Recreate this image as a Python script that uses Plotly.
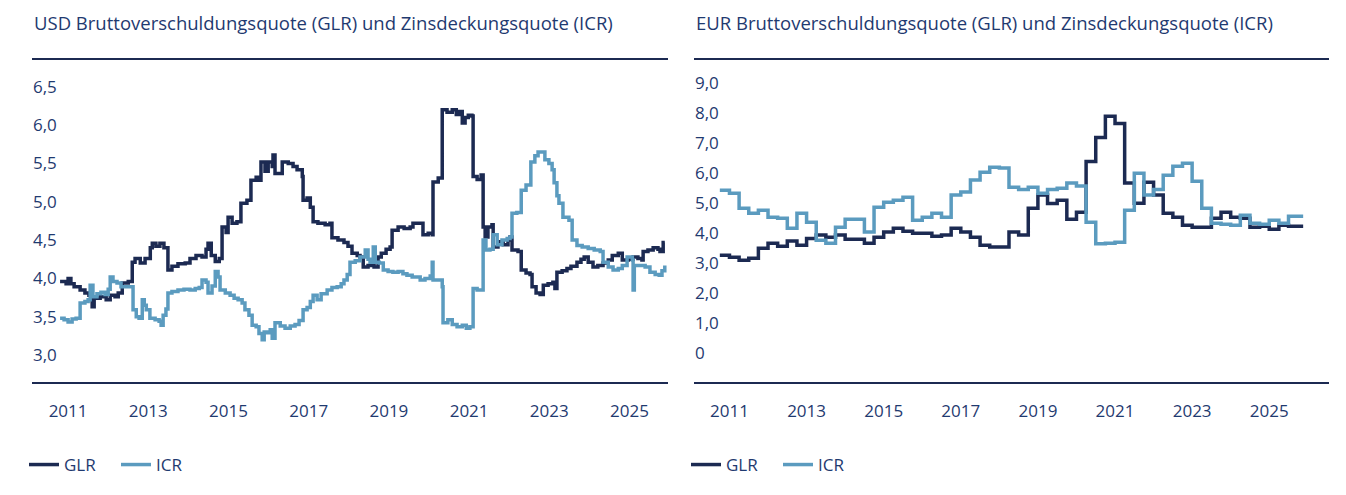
import plotly.graph_objects as go

NAVY = "#1c2a52"
LIGHT = "#5b9bbf"
TEXT = "#1f3a70"
FONT = "Open Sans"

# USD gross leverage ratio (GLR): (year, value)
usd_glr_pts = [
    (2010.80, 3.96), (2010.95, 3.93), (2011.00, 4.00), (2011.07, 3.93), (2011.15, 3.89),
    (2011.30, 3.85), (2011.42, 3.81), (2011.52, 3.78), (2011.60, 3.63), (2011.65, 3.74),
    (2011.80, 3.76), (2011.95, 3.72), (2012.05, 3.78), (2012.17, 3.76), (2012.25, 3.81),
    (2012.35, 3.94), (2012.50, 3.96), (2012.60, 4.21), (2012.67, 4.26), (2012.80, 4.20),
    (2012.92, 4.26), (2013.05, 4.40), (2013.10, 4.46), (2013.19, 4.42), (2013.29, 4.46),
    (2013.39, 4.40), (2013.49, 4.11), (2013.59, 4.16), (2013.74, 4.19), (2013.92, 4.20),
    (2014.04, 4.26), (2014.19, 4.30), (2014.34, 4.28), (2014.44, 4.38), (2014.49, 4.46),
    (2014.57, 4.30), (2014.67, 4.22), (2014.77, 4.26), (2014.84, 4.67), (2014.94, 4.60),
    (2014.99, 4.80), (2015.09, 4.72), (2015.21, 4.74), (2015.31, 4.98), (2015.46, 5.02),
    (2015.56, 5.28), (2015.69, 5.32), (2015.76, 5.28), (2015.81, 5.52), (2015.91, 5.40),
    (2015.99, 5.52), (2016.09, 5.46), (2016.11, 5.61), (2016.16, 5.37), (2016.29, 5.37),
    (2016.34, 5.52), (2016.49, 5.50), (2016.61, 5.46), (2016.71, 5.42), (2016.84, 5.33),
    (2016.86, 5.02), (2016.96, 5.05), (2017.04, 4.93), (2017.11, 4.74), (2017.23, 4.72),
    (2017.41, 4.70), (2017.53, 4.72), (2017.58, 4.53), (2017.73, 4.50), (2017.88, 4.47),
    (2017.98, 4.42), (2018.08, 4.33), (2018.21, 4.30), (2018.28, 4.28), (2018.36, 4.15),
    (2018.48, 4.17), (2018.63, 4.15), (2018.73, 4.28), (2018.81, 4.33), (2018.93, 4.38),
    (2019.03, 4.41), (2019.08, 4.63), (2019.23, 4.67), (2019.38, 4.65), (2019.53, 4.67),
    (2019.60, 4.72), (2019.78, 4.72), (2019.85, 4.57), (2019.98, 4.59), (2020.08, 4.57),
    (2020.10, 5.26), (2020.23, 5.31), (2020.33, 6.20), (2020.45, 6.17), (2020.58, 6.20),
    (2020.68, 6.14), (2020.75, 6.18), (2020.83, 6.03), (2020.90, 6.10), (2020.98, 6.13),
    (2021.07, 6.12), (2021.10, 5.33), (2021.20, 5.29), (2021.30, 5.35), (2021.35, 4.67),
    (2021.40, 4.54), (2021.47, 4.67), (2021.57, 4.70), (2021.60, 4.41), (2021.72, 4.48),
    (2021.85, 4.44), (2021.97, 4.50), (2022.02, 4.54), (2022.07, 4.37), (2022.22, 4.35),
    (2022.30, 4.11), (2022.42, 4.07), (2022.52, 4.05), (2022.57, 3.89), (2022.67, 3.81),
    (2022.77, 3.79), (2022.85, 3.91), (2022.97, 3.93), (2023.09, 3.95), (2023.14, 3.87),
    (2023.19, 4.08), (2023.32, 4.10), (2023.44, 4.13), (2023.54, 4.16), (2023.69, 4.21),
    (2023.79, 4.25), (2023.87, 4.28), (2023.97, 4.21), (2024.09, 4.15), (2024.21, 4.17),
    (2024.34, 4.20), (2024.47, 4.24), (2024.57, 4.30), (2024.72, 4.33), (2024.82, 4.24),
    (2024.97, 4.25), (2025.09, 4.28), (2025.21, 4.26), (2025.31, 4.24), (2025.34, 4.35),
    (2025.46, 4.37), (2025.59, 4.40), (2025.71, 4.38), (2025.76, 4.35), (2025.84, 4.47),
    (2025.88, 4.47),
]

# USD interest coverage ratio (ICR): (year, value)
usd_icr_pts = [
    (2010.80, 3.48), (2010.90, 3.46), (2011.00, 3.43), (2011.10, 3.47), (2011.20, 3.48),
    (2011.30, 3.68), (2011.42, 3.70), (2011.50, 3.72), (2011.55, 3.91), (2011.62, 3.76),
    (2011.72, 3.80), (2011.82, 3.82), (2011.92, 3.79), (2012.00, 3.86), (2012.05, 4.02),
    (2012.12, 3.96), (2012.22, 3.94), (2012.32, 3.89), (2012.45, 3.89), (2012.55, 3.89),
    (2012.62, 3.59), (2012.70, 3.50), (2012.77, 3.48), (2012.85, 3.72), (2012.90, 3.65),
    (2012.95, 3.59), (2013.04, 3.48), (2013.17, 3.46), (2013.27, 3.44), (2013.32, 3.39),
    (2013.37, 3.52), (2013.44, 3.60), (2013.49, 3.81), (2013.59, 3.83), (2013.74, 3.85),
    (2013.89, 3.86), (2014.04, 3.85), (2014.17, 3.87), (2014.27, 3.88), (2014.34, 3.98),
    (2014.44, 3.95), (2014.49, 3.81), (2014.59, 3.90), (2014.67, 4.09), (2014.74, 4.02),
    (2014.79, 3.85), (2014.92, 3.81), (2015.04, 3.78), (2015.14, 3.74), (2015.24, 3.72),
    (2015.34, 3.68), (2015.41, 3.59), (2015.51, 3.52), (2015.59, 3.39), (2015.69, 3.37),
    (2015.76, 3.28), (2015.84, 3.20), (2015.89, 3.30), (2015.96, 3.29), (2016.04, 3.33),
    (2016.09, 3.22), (2016.16, 3.42), (2016.29, 3.38), (2016.41, 3.35), (2016.54, 3.38),
    (2016.66, 3.40), (2016.76, 3.45), (2016.86, 3.59), (2016.96, 3.62), (2017.04, 3.70),
    (2017.11, 3.78), (2017.21, 3.72), (2017.31, 3.80), (2017.46, 3.85), (2017.58, 3.88),
    (2017.71, 3.89), (2017.81, 3.93), (2017.88, 3.98), (2017.96, 4.05), (2018.03, 4.21),
    (2018.16, 4.23), (2018.28, 4.28), (2018.41, 4.37), (2018.48, 4.25), (2018.53, 4.21),
    (2018.61, 4.41), (2018.66, 4.21), (2018.76, 4.20), (2018.86, 4.11), (2018.98, 4.09),
    (2019.10, 4.08), (2019.23, 4.09), (2019.35, 4.06), (2019.45, 4.04), (2019.58, 4.02),
    (2019.70, 4.02), (2019.78, 3.98), (2019.90, 4.00), (2020.03, 4.03), (2020.08, 4.21),
    (2020.10, 3.98), (2020.23, 3.98), (2020.33, 3.89), (2020.35, 3.42), (2020.47, 3.46),
    (2020.58, 3.40), (2020.70, 3.37), (2020.83, 3.39), (2020.93, 3.35), (2021.02, 3.37),
    (2021.10, 3.87), (2021.20, 3.85), (2021.30, 3.85), (2021.35, 4.50), (2021.42, 4.37),
    (2021.52, 4.38), (2021.60, 4.57), (2021.70, 4.44), (2021.82, 4.50), (2021.95, 4.52),
    (2022.02, 4.54), (2022.07, 4.85), (2022.19, 4.86), (2022.30, 5.15), (2022.42, 5.22),
    (2022.54, 5.52), (2022.64, 5.60), (2022.72, 5.65), (2022.82, 5.65), (2022.89, 5.55),
    (2022.99, 5.50), (2023.07, 5.42), (2023.12, 5.25), (2023.19, 5.08), (2023.24, 4.98),
    (2023.34, 4.80), (2023.49, 4.76), (2023.57, 4.50), (2023.69, 4.43), (2023.82, 4.41),
    (2023.97, 4.39), (2024.12, 4.37), (2024.27, 4.35), (2024.34, 4.21), (2024.47, 4.15),
    (2024.59, 4.11), (2024.72, 4.13), (2024.82, 4.17), (2024.94, 4.28), (2025.07, 4.24),
    (2025.09, 3.85), (2025.12, 4.17), (2025.26, 4.17), (2025.39, 4.15), (2025.51, 4.08),
    (2025.64, 4.05), (2025.74, 4.04), (2025.81, 4.10), (2025.88, 4.17),
]

# EUR quarterly values, Q4 2010 .. Q4 2025
eur_glr = [
    3.27,
    3.20, 3.10, 3.17, 3.50,
    3.67, 3.57, 3.74, 3.60,
    3.83, 3.94, 3.87, 3.94,
    3.80, 3.80, 3.67, 3.87,
    4.04, 4.17, 4.07, 4.00,
    4.00, 3.90, 3.94, 4.17,
    4.04, 3.87, 3.60, 3.54,
    3.54, 4.04, 3.94, 4.83,
    5.27, 4.99, 5.10, 4.47,
    4.70, 6.39, 7.19, 7.89,
    7.65, 5.67, 5.00, 5.70,
    5.27, 4.67, 4.53, 4.27,
    4.20, 4.20, 4.50, 4.70,
    4.53, 4.50, 4.20, 4.23,
    4.13, 4.27, 4.23, 4.23,
]
eur_icr = [
    5.43,
    5.33, 4.83, 4.67, 4.77,
    4.53, 4.50, 4.17, 4.67,
    4.37, 3.77, 3.67, 4.20,
    4.47, 4.47, 4.04, 4.87,
    5.03, 5.10, 5.20, 4.43,
    4.53, 4.67, 4.53, 5.27,
    5.37, 5.77, 6.03, 6.20,
    6.17, 5.53, 5.46, 5.53,
    5.33, 5.46, 5.50, 5.67,
    5.57, 4.37, 3.65, 3.67,
    3.70, 4.77, 6.00, 5.27,
    5.46, 5.93, 6.23, 6.33,
    5.73, 4.83, 4.33, 4.30,
    4.27, 4.60, 4.33, 4.30,
    4.43, 4.33, 4.57, 4.57,
]
EUR_FIRST_QUARTER = 2010.75
LAST_OBS = 2025.88

tick_years = [2011, 2013, 2015, 2017, 2019, 2021, 2023, 2025]
usd_yticks = [3.0, 3.5, 4.0, 4.5, 5.0, 5.5, 6.0, 6.5]
eur_yticks = [0, 1, 2, 3, 4, 5, 6, 7, 8, 9]

titles = [
    "USD Bruttoverschuldungsquote (GLR) und Zinsdeckungsquote (ICR)",
    "EUR Bruttoverschuldungsquote (GLR) und Zinsdeckungsquote (ICR)",
]

W, H = 1346, 495
PAGE_OFFSET = 8  # the page body adds an 8px margin around the figure


def px_x(p):
    return (p - PAGE_OFFSET) / W


def px_y(p):
    return 1 - (p - PAGE_OFFSET) / H


eur_x = [EUR_FIRST_QUARTER + 0.25 * i for i in range(len(eur_glr))] + [LAST_OBS]
eur_glr_y = eur_glr + [eur_glr[-1]]
eur_icr_y = eur_icr + [eur_icr[-1]]

fig = go.Figure()

fig.add_trace(go.Scatter(
    x=[p[0] for p in usd_glr_pts], y=[p[1] for p in usd_glr_pts],
    mode="lines", line=dict(color=NAVY, width=3.5, shape="hv"),
    name="GLR", legend="legend", xaxis="x", yaxis="y"))
fig.add_trace(go.Scatter(
    x=[p[0] for p in usd_icr_pts], y=[p[1] for p in usd_icr_pts],
    mode="lines", line=dict(color=LIGHT, width=3.5, shape="hv"),
    name="ICR", legend="legend", xaxis="x", yaxis="y"))
fig.add_trace(go.Scatter(
    x=eur_x, y=eur_glr_y,
    mode="lines", line=dict(color=NAVY, width=3.5, shape="hv"),
    name="GLR", legend="legend2", xaxis="x2", yaxis="y2"))
fig.add_trace(go.Scatter(
    x=eur_x, y=eur_icr_y,
    mode="lines", line=dict(color=LIGHT, width=3.5, shape="hv"),
    name="ICR", legend="legend2", xaxis="x2", yaxis="y2"))

xcommon = dict(
    tickmode="array", tickvals=tick_years, ticktext=[str(t) for t in tick_years],
    showgrid=False, zeroline=False, showline=True, mirror=True,
    linecolor=NAVY, linewidth=2, ticks="", ticklabelstandoff=13,
    tickfont=dict(family=FONT, size=17, color=TEXT),
)
ycommon = dict(
    showgrid=False, zeroline=False, showline=False, ticks="",
    ticklabelposition="inside", tickmode="array", anchor="free",
    tickfont=dict(family=FONT, size=17, color=TEXT),
)

legend_common = dict(
    orientation="h", yanchor="middle", xanchor="left",
    font=dict(family=FONT, size=17, color=TEXT),
    bgcolor="rgba(0,0,0,0)", itemwidth=30, tracegroupgap=0,
    entrywidth=47, entrywidthmode="pixels",
)

fig.update_layout(
    width=W, height=H,
    margin=dict(l=0, r=0, t=0, b=0),
    paper_bgcolor="white", plot_bgcolor="white",
    font=dict(family=FONT, color=TEXT),
    xaxis=dict(domain=[px_x(32), px_x(668)], range=[2010.10, 2025.96],
               anchor="y", **xcommon),
    yaxis=dict(domain=[px_y(382), px_y(60)], range=[2.648, 6.851],
               position=px_x(29), tickvals=usd_yticks,
               ticktext=[f"{v:.1f}".replace(".", ",") for v in usd_yticks],
               **ycommon),
    xaxis2=dict(domain=[px_x(694), px_x(1329)], range=[2010.08, 2026.55],
                anchor="y2", **xcommon),
    yaxis2=dict(domain=[px_y(382), px_y(60)], range=[-0.948, 9.765],
                position=px_x(691), tickvals=eur_yticks,
                ticktext=["0" if v == 0 else f"{v:.1f}".replace(".", ",") for v in eur_yticks],
                **ycommon),
    legend=dict(x=px_x(24), y=px_y(465), **legend_common),
    legend2=dict(x=px_x(686), y=px_y(465), **legend_common),
    annotations=[
        dict(text=titles[0], x=px_x(32), y=px_y(23), xref="paper", yref="paper",
             xanchor="left", yanchor="middle", showarrow=False,
             font=dict(family=FONT, size=18.5, color=TEXT)),
        dict(text=titles[1], x=px_x(694), y=px_y(23), xref="paper", yref="paper",
             xanchor="left", yanchor="middle", showarrow=False,
             font=dict(family=FONT, size=18.5, color=TEXT)),
    ],
)

fig.write_html("out.html")
